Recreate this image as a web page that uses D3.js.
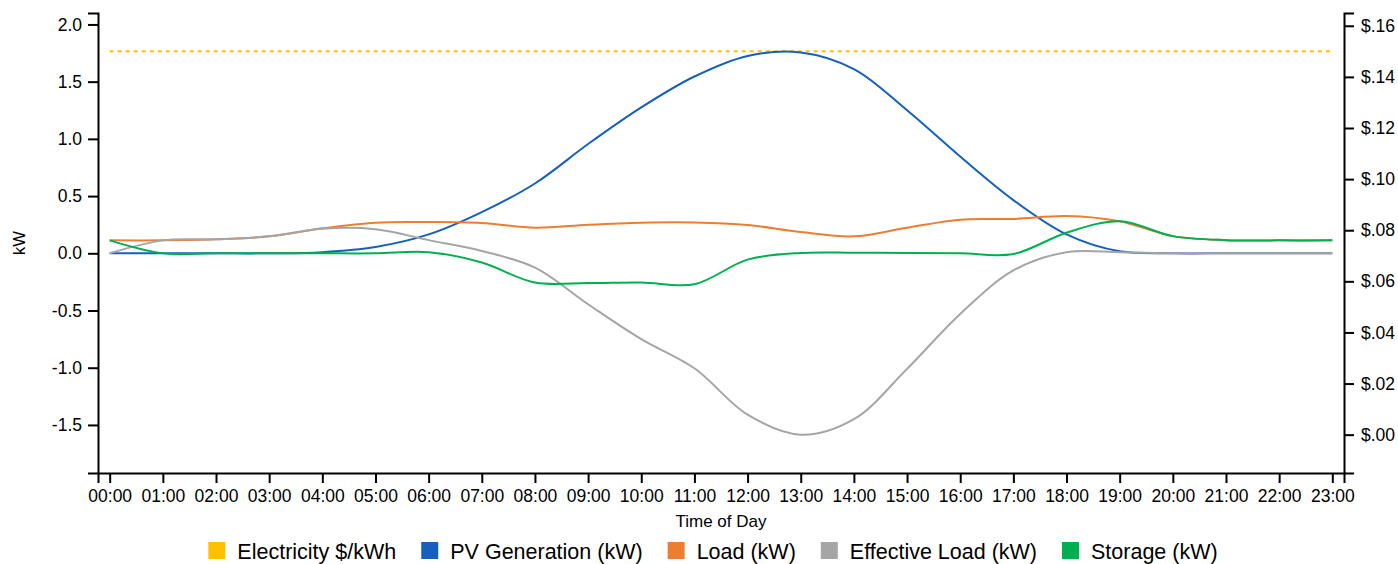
<!DOCTYPE html>
<html>
<head>
<meta charset="utf-8">
<script src="https://cdn.jsdelivr.net/npm/d3@7"></script>
<style>
  html, body { margin: 0; padding: 0; background: #fff; }
  svg { display: block; font-family: "Liberation Sans", Arial, Helvetica, sans-serif; }
</style>
</head>
<body>
<svg id="chart" width="1398" height="564"></svg>
<script>
// ---- data ----
const hours = [0,1,2,3,4,5,6,7,8,9,10,11,12,13,14,15,16,17,18,19,20,21,22,23];
const hourLabels = ["00:00","01:00","02:00","03:00","04:00","05:00","06:00","07:00","08:00","09:00","10:00","11:00",
                    "12:00","13:00","14:00","15:00","16:00","17:00","18:00","19:00","20:00","21:00","22:00","23:00"];
const price = [0.15,0.15,0.15,0.15,0.15,0.15,0.15,0.15,0.15,0.15,0.15,0.15,
               0.15,0.15,0.15,0.15,0.15,0.15,0.15,0.15,0.15,0.15,0.15,0.15];
const pvGeneration = [0, 0, 0, 0, 0.01, 0.055, 0.165, 0.36, 0.61, 0.955, 1.275, 1.545,
                      1.725, 1.755, 1.61, 1.25, 0.845, 0.465, 0.165, 0.017, 0, 0, 0, 0];
const load = [0.113, 0.113, 0.122, 0.148, 0.218, 0.268, 0.273, 0.265, 0.224, 0.25, 0.268, 0.27,
              0.248, 0.186, 0.148, 0.224, 0.294, 0.30, 0.326, 0.28, 0.15, 0.115, 0.113, 0.113];
const effectiveLoad = [0, 0.113, 0.122, 0.148, 0.215, 0.21, 0.115, 0.02, -0.125, -0.445, -0.75, -1.005,
                       -1.41, -1.585, -1.45, -1.01, -0.53, -0.15, 0.01, 0.01, 0, 0, 0, 0];
const storage = [0.113, 0, 0, 0, 0, 0, 0.01, -0.08, -0.256, -0.26, -0.255, -0.27,
                 -0.055, 0.003, 0.005, 0.003, 0, -0.006, 0.18, 0.28, 0.15, 0.115, 0.113, 0.113];
const kwTicks = [-1.5, -1.0, -0.5, 0.0, 0.5, 1.0, 1.5, 2.0];
const priceTicks = [0, 0.02, 0.04, 0.06, 0.08, 0.10, 0.12, 0.14, 0.16];

const seriesNames = ["Electricity $/kWh", "PV Generation (kW)", "Load (kW)", "Effective Load (kW)", "Storage (kW)"];
const seriesColors = ["#FFC000", "#1560BD", "#ED7D31", "#A5A5A5", "#00B050"];

// ---- layout ----
const svg = d3.select("#chart");
const mLeft = 98, mRight = 1344, mTop = 13, mBottom = 473;

const x = d3.scaleLinear().domain([-0.22, 23.22]).range([mLeft, mRight]);
const yKw = d3.scaleLinear().domain([-1.92, 2.1]).range([mBottom, mTop]);
const yPrice = d3.scaleLinear().domain([-0.015, 0.165]).range([mBottom, mTop]);

const curve = d3.curveCatmullRom.alpha(0.5);

// axes
const xAxis = d3.axisBottom(x).tickValues(hours).tickFormat((d, i) => hourLabels[i]).tickSize(10).tickPadding(7);
const yAxisL = d3.axisLeft(yKw).tickValues(kwTicks).tickFormat(d => d.toFixed(1)).tickSize(10).tickPadding(6);
const yAxisR = d3.axisRight(yPrice).tickValues(priceTicks)
  .tickFormat(d => "$" + d.toFixed(2).replace(/^0/, "")).tickSize(10).tickPadding(7);

function styleAxis(g) {
  g.selectAll("path, line").attr("stroke", "#000").attr("stroke-width", 2);
  g.selectAll("text").attr("fill", "#000").style("font-size", "17.5px")
   .style("font-family", "'Liberation Sans', Arial, Helvetica, sans-serif");
}

svg.append("g").attr("transform", `translate(0,${mBottom})`).call(xAxis).call(styleAxis);
svg.append("g").attr("transform", `translate(${mLeft},0)`).call(yAxisL).call(styleAxis);
svg.append("g").attr("transform", `translate(${mRight},0)`).call(yAxisR).call(styleAxis);

// axis titles
svg.append("text")
  .attr("transform", `translate(25,${(mTop + mBottom) / 2}) rotate(-90)`)
  .attr("text-anchor", "middle")
  .style("font-size", "16.5px")
  .text("kW");
svg.append("text")
  .attr("x", (mLeft + mRight) / 2).attr("y", 527)
  .attr("text-anchor", "middle")
  .style("font-size", "17px")
  .text("Time of Day");

// lines
const lineKw = d3.line().x((d, i) => x(hours[i])).y(d => yKw(d)).curve(curve);
const linePrice = d3.line().x((d, i) => x(hours[i])).y(d => yPrice(d)).curve(curve);

svg.append("path").datum(price)
  .attr("d", linePrice).attr("fill", "none")
  .attr("stroke", seriesColors[0]).attr("stroke-width", 2).attr("stroke-dasharray", "4,4");

const kwSeries = [pvGeneration, load, effectiveLoad, storage];
kwSeries.forEach((s, k) => {
  svg.append("path").datum(s)
    .attr("d", lineKw).attr("fill", "none")
    .attr("stroke", seriesColors[k + 1]).attr("stroke-width", 2);
});

// legend
const legend = svg.append("g");
let cx = 0;
seriesNames.forEach((name, i) => {
  const g = legend.append("g").attr("transform", `translate(${cx},0)`);
  g.append("rect").attr("x", 0).attr("y", 542).attr("width", 17).attr("height", 17).attr("fill", seriesColors[i]);
  const t = g.append("text").attr("x", 29).attr("y", 559).style("font-size", "21.5px").attr("fill", "#000").text(name);
  const w = t.node().getComputedTextLength();
  cx += 29 + w + 25;
});
const totalW = cx - 25;
legend.attr("transform", `translate(${713 - totalW / 2},0)`);
</script>
</body>
</html>
